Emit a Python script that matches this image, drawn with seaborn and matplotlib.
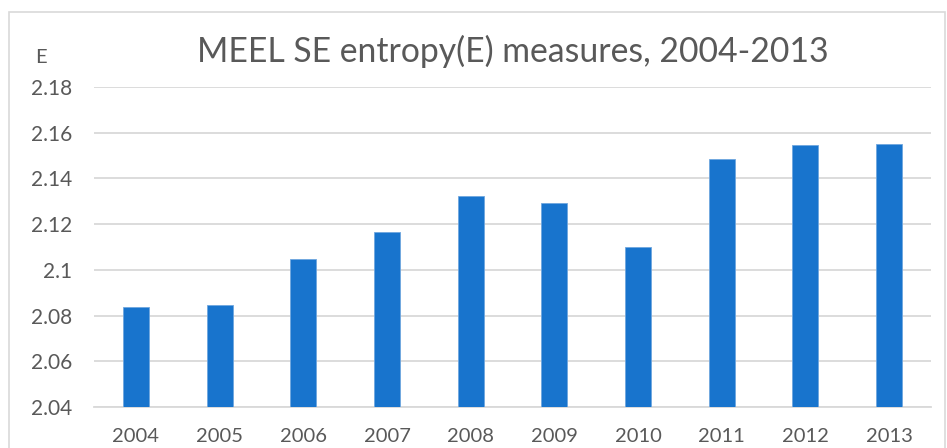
import matplotlib
matplotlib.use('Agg')
import matplotlib.pyplot as plt
import seaborn as sns
import pandas as pd
from matplotlib.patches import Rectangle

# --- data ---
years = ['2004', '2005', '2006', '2007', '2008', '2009', '2010', '2011', '2012', '2013']
entropy = [2.0838, 2.0845, 2.1046, 2.1167, 2.1325, 2.1293, 2.1099, 2.1485, 2.1545, 2.1549]
y_ticks = [2.04, 2.06, 2.08, 2.10, 2.12, 2.14, 2.16, 2.18]
y_tick_labels = ['2.04', '2.06', '2.08', '2.1', '2.12', '2.14', '2.16', '2.18']

df = pd.DataFrame({'year': years, 'E': entropy})

sns.set_style('white')
plt.rcParams['font.family'] = ['Lato', 'DejaVu Sans']

text_grey = '#595959'
grid_grey = '#D9D9D9'
bar_blue = '#1874CD'

fig = plt.figure(figsize=(9.47, 4.48), dpi=100)
ax = fig.add_axes([0.0993, 0.0915, 0.8837, 0.7145])

sns.barplot(data=df, x='year', y='E', color=bar_blue, width=0.31,
            edgecolor='#6FA6DF', linewidth=0.6, saturation=1, ax=ax, zorder=3)

ax.set_ylim(2.04, 2.18)
ax.set_xlim(-0.5, len(years) - 0.5)
ax.set_yticks(y_ticks)
ax.set_yticklabels(y_tick_labels)
ax.yaxis.grid(True, color=grid_grey, linewidth=1.3, zorder=0)
ax.set_axisbelow(True)
for side in ['top', 'right', 'left']:
    ax.spines[side].set_visible(False)
ax.spines['bottom'].set_color(grid_grey)
ax.spines['bottom'].set_linewidth(1.3)
ax.tick_params(axis='both', length=0, labelcolor=text_grey)
ax.tick_params(axis='x', pad=15, labelsize=14.5)
ax.tick_params(axis='y', pad=16, labelsize=15)
ax.set_xlabel('')
ax.set_ylabel('')

# title and axis caption
fig.text(0.5415, 0.886, 'MEEL SE entropy(E) measures, 2004-2013', ha='center', va='center',
         fontsize=24.3, color=text_grey)
fig.text(0.0375, 0.872, 'E', ha='left', va='center', fontsize=14.5, color=text_grey)

# chart frame
fig.patches.append(Rectangle((9 / 947, -0.05), 936 / 947, 1 - 12 / 448 + 0.05,
                             transform=fig.transFigure, fill=False,
                             edgecolor='#D9D9D9', linewidth=1.2))

fig.savefig('out.png', dpi=100)
